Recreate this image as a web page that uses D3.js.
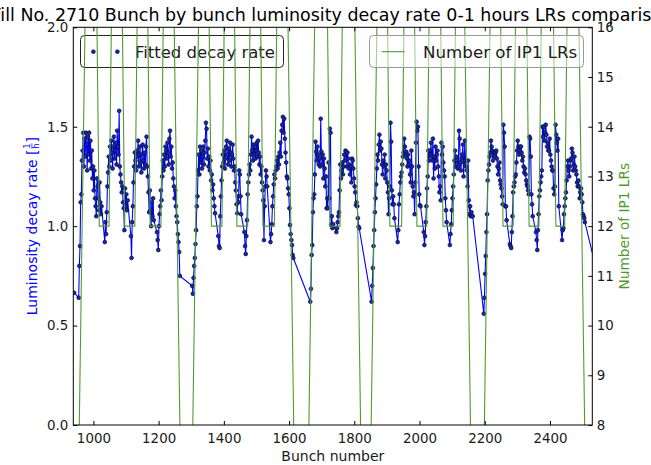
<!DOCTYPE html>
<html><head><meta charset="utf-8">
<script src="https://cdn.jsdelivr.net/npm/d3@7"></script>
<style>
html,body{margin:0;padding:0;background:#fff;}
svg{display:block;font-family:"DejaVu Sans",sans-serif;}
</style></head>
<body><svg id="chart" width="651" height="465"></svg>
<script>
// ---------------- data ----------------
const titleText = "Fill No. 2710 Bunch by bunch luminosity decay rate 0-1 hours LRs comparison";
const xTicks = [1000, 1200, 1400, 1600, 1800, 2000, 2200, 2400];
const yLeftTicks = [0.0, 0.5, 1.0, 1.5, 2.0];
const yRightTicks = [8, 9, 10, 11, 12, 13, 14, 15, 16];

// first bunch of each 36-bunch train (bunch slot number)
const trainStart = [955, 1035, 1115, 1195, 1303, 1383, 1463, 1543, 1665, 1745,
                    1853, 1933, 2013, 2093, 2197, 2277, 2357, 2437];
const bunchSpacing = 2;
// fitted luminosity decay rate [1/h] of consecutive bunches in each train
const trainRates = [
 [0.64,0.80,0.90,1.12,1.16,1.33,1.38,1.47,1.30,1.44,1.35,1.47,1.41,1.28,1.45,1.36,1.47,1.33,1.43,1.29,1.38,1.24,1.30,1.18,1.28,1.14,1.10,1.05,1.24,1.20,1.14,1.08,1.22,1.12,1.06,1.10],
 [0.92,1.02,0.96,1.07,1.20,1.27,1.35,1.30,1.40,1.33,1.43,1.37,1.29,1.40,1.45,1.34,1.38,1.42,1.31,1.48,1.40,1.36,1.58,1.30,1.26,1.22,1.17,1.20,1.12,1.09,0.98,1.19,1.10,1.16,1.08,1.13],
 [0.95,0.84,1.02,1.10,1.22,1.30,1.37,1.33,1.28,1.38,1.35,1.43,1.30,1.36,1.40,1.32,1.27,1.36,1.41,1.33,1.29,1.37,1.31,1.40,1.45,1.30,1.25,1.17,1.07,1.18,1.08,1.00,1.12,1.05,1.14,1.03],
 [0.97,0.93,0.88,1.00,1.06,1.10,1.18,1.13,1.25,1.33,1.28,1.36,1.30,1.40,1.38,1.34,1.42,1.37,1.31,1.44,1.48,1.35,1.40,1.29,1.32,1.24,1.20,1.14,1.18,1.10,1.05,1.02,0.96,0.92,0.87,0.75],
 [0.70,0.66,0.74,0.80,0.84,0.91,0.98,1.10,1.15,1.28,1.36,1.26,1.40,1.32,1.38,1.29,1.35,1.40,1.31,1.37,1.43,1.52,1.49,1.34,1.39,1.30,1.35,1.28,1.33,1.23,1.26,1.18,1.21,1.14,1.10,1.065],
 [0.95,0.90,0.89,1.05,1.15,1.23,1.30,1.36,1.32,1.38,1.29,1.34,1.40,1.43,1.36,1.31,1.39,1.33,1.42,1.37,1.30,1.36,1.41,1.34,1.28,1.30,1.22,1.18,1.11,1.065,1.15,1.12,1.28,1.26,1.15,1.06],
 [0.97,0.90,0.86,0.95,1.03,1.16,1.22,1.26,1.31,1.28,1.36,1.45,1.38,1.33,1.41,1.36,1.40,1.34,1.38,1.42,1.35,1.43,1.37,1.31,1.35,1.26,1.30,1.22,1.18,1.13,0.93,1.10,1.20,1.28,1.25,1.20],
 [0.92,0.96,1.01,1.10,1.15,1.21,1.26,1.24,1.28,1.30,1.33,1.29,1.35,1.31,1.37,1.42,1.35,1.48,1.51,1.55,1.47,1.54,1.44,1.37,1.32,1.25,1.24,1.19,1.16,1.09,1.006,0.96,0.93,0.905,0.855,0.84],
 [0.62,0.685,0.855,0.905,1.07,1.14,1.16,1.26,1.425,1.375,1.33,1.40,1.36,1.31,1.34,1.30,1.54,1.375,1.31,1.36,1.24,1.34,1.29,1.20,1.25,1.09,1.14,1.09,1.32,1.14,1.49,1.47,1.006,1.05,0.99,1.01],
 [0.97,0.99,1.02,1.05,1.07,1.18,1.31,1.24,1.28,1.32,1.26,1.30,1.36,1.33,1.38,1.375,1.30,1.37,1.34,1.29,1.31,1.26,1.30,1.22,1.34,1.33,1.29,1.24,1.20,1.17,1.106,1.12,1.10,1.04,0.997,0.99],
 [0.62,0.70,0.79,0.90,0.98,1.07,1.14,1.21,1.29,1.36,1.33,1.41,1.46,1.38,1.425,1.39,1.31,1.26,1.33,1.30,1.36,1.24,1.31,1.28,1.22,1.17,1.06,1.14,1.20,1.52,1.425,1.18,1.11,1.15,1.11,1.04],
 [0.92,0.98,1.11,1.16,1.22,1.25,1.27,1.31,1.35,1.37,1.44,1.40,1.36,1.375,1.34,1.30,1.36,1.31,1.33,1.26,1.22,1.38,1.30,1.20,1.15,1.17,1.06,1.22,1.42,1.525,1.48,1.50,1.30,1.16,1.105,1.10],
 [0.97,0.905,0.95,1.02,1.10,1.19,1.25,1.38,1.33,1.38,1.36,1.42,1.35,1.33,1.44,1.24,1.35,1.29,1.40,1.33,1.36,1.38,1.30,1.25,1.17,1.20,1.13,1.42,1.36,1.40,1.32,1.28,1.25,1.14,1.08,1.02],
 [0.905,0.96,1.01,1.08,1.14,1.20,1.26,1.33,1.38,1.30,1.35,1.33,1.29,1.30,1.48,1.44,1.32,1.28,1.34,1.36,1.41,1.25,1.32,1.43,1.33,1.30,1.28,1.20,1.33,1.13,1.06,1.10,1.05,1.07,1.05,1.05],
 [0.56,0.64,0.76,0.85,0.97,1.06,1.23,1.28,1.31,1.35,1.37,1.43,1.40,1.38,1.33,1.36,1.37,1.35,1.37,1.38,1.34,1.30,1.26,1.29,1.32,1.23,1.21,1.19,1.15,1.11,1.51,1.47,1.40,1.10,1.10,1.03],
 [0.91,0.90,0.89,0.97,1.05,1.17,1.20,1.22,1.25,1.26,1.32,1.38,1.43,1.40,1.36,1.38,1.40,1.40,1.37,1.33,1.35,1.30,1.27,1.29,1.26,1.23,1.21,1.20,1.18,1.16,1.45,1.44,1.35,1.16,1.11,1.05],
 [0.97,0.93,0.88,0.98,1.06,1.15,1.18,1.22,1.25,1.28,1.50,1.45,1.50,1.43,1.47,1.51,1.46,1.40,1.42,1.38,1.38,1.44,1.36,1.33,1.30,1.28,1.28,1.19,1.16,1.20,1.51,1.46,1.42,1.38,1.44,1.10],
 [0.93,0.98,0.99,1.06,1.10,1.14,1.17,1.23,1.30,1.33,1.28,1.25,1.30,1.33,1.34,1.39,1.37,1.28,1.31,1.35,1.30,1.28,1.26,1.22,1.20,1.23,1.20,1.14,1.17,1.19,1.16,1.12,1.06,1.05,1.04,1.02]
];
// isolated bunches before the first and after the last train
const extraBunch = [941, 2560];
const extraRate = [0.665, 0.66];

// number of IP1 long-range encounters (polyline vertices)
const lrBunch = [948,983, 1004,1018,1048,1062, 1082,1096,1127,1141, 1160,1174,1207,1221, 1239,1274,
                 1296,1331, 1348,1362,1394,1408, 1426,1440,1473,1487, 1506,1520,1555,1569, 1588,1623,
                 1652,1687, 1711,1725,1756,1770, 1793,1828,
                 1843,1878, 1895,1909,1945,1959, 1978,1992,2022,2036, 2058,2072,2103,2117, 2130,2165,
                 2190,2225, 2242,2256,2287,2301, 2322,2336,2366,2380, 2404,2418,2445,2459, 2480,2515];
const lrCount = [4,20, 20,12,12,20, 20,12,12,20, 20,12,12,20, 20,4,
                 4,20, 20,12,12,20, 20,12,12,20, 20,12,12,20, 20,4,
                 4,20, 20,12,12,20, 20,4,
                 4,20, 20,12,12,20, 20,12,12,20, 20,12,12,20, 20,4,
                 4,20, 20,12,12,20, 20,12,12,20, 20,12,12,20, 20,4];

// ---------------- build ----------------
const blue = [];
blue.push({b: extraBunch[0], r: extraRate[0]});
trainStart.forEach((s, i) => trainRates[i].forEach((r, j) => blue.push({b: s + bunchSpacing * j, r})));
blue.push({b: extraBunch[1], r: extraRate[1]});
const green = lrBunch.map((b, i) => ({b, n: lrCount[i]}));

const L = 73.3, R = 592.3, T = 27.3, B = 425;
const x = d3.scaleLinear().domain([938.4, 2529.7]).range([L, R]);
const yL = d3.scaleLinear().domain([0, 2]).range([B, T]);
const yR = d3.scaleLinear().domain([8, 16]).range([B, T]);

const svg = d3.select("#chart");
svg.append("rect").attr("width", 651).attr("height", 465).attr("fill", "#fff");
svg.append("defs").append("clipPath").attr("id", "clip")
  .append("rect").attr("x", L).attr("y", T).attr("width", R - L).attr("height", B - T);

const blueCol = "#0000ff", greenCol = "#4f9b30", txt = "#1a1a1a";

// ---- ax1: blue series
const gPlot = svg.append("g").attr("clip-path", "url(#clip)");
gPlot.append("path").datum(blue)
  .attr("d", d3.line().x(d => x(d.b)).y(d => yL(d.r)))
  .attr("fill", "none").attr("stroke", blueCol).attr("stroke-width", 1.1);
gPlot.selectAll("circle.pt").data(blue).join("circle").attr("class", "pt")
  .attr("cx", d => x(d.b)).attr("cy", d => yL(d.r)).attr("r", 1.9)
  .attr("fill", "#1428b4").attr("stroke", "#0a0a3a").attr("stroke-width", 0.7);

// legend ax1
const lg1 = svg.append("g");
lg1.append("rect").attr("x", 80.5).attr("y", 35.5).attr("width", 203).attr("height", 32).attr("rx", 4)
  .attr("fill", "#fff").attr("stroke", "#222").attr("stroke-width", 1);
[93.4, 117.4].forEach(cx => lg1.append("circle").attr("cx", cx).attr("cy", 51.7).attr("r", 1.9)
  .attr("fill", "#1428b4").attr("stroke", "#0a0a3a").attr("stroke-width", 0.7));
lg1.append("text").attr("x", 134.9).attr("y", 57.6).attr("font-size", 16.5).attr("fill", txt).text("Fitted decay rate");

// ---- ax2: green series (drawn above ax1)
const gPlot2 = svg.append("g").attr("clip-path", "url(#clip)");
gPlot2.append("path").datum(green)
  .attr("d", d3.line().x(d => x(d.b)).y(d => yR(d.n)))
  .attr("fill", "none").attr("stroke", greenCol).attr("stroke-width", 1.1);

// legend ax2 (semi-transparent frame)
const lg2 = svg.append("g");
lg2.append("rect").attr("x", 369.5).attr("y", 35.5).attr("width", 214).attr("height", 32).attr("rx", 4)
  .attr("fill", "#fff").attr("fill-opacity", 0.5).attr("stroke", "#999").attr("stroke-width", 1);
lg2.append("line").attr("x1", 381.7).attr("x2", 404.6).attr("y1", 51.7).attr("y2", 51.7)
  .attr("stroke", greenCol).attr("stroke-width", 1.1);
lg2.append("text").attr("x", 423).attr("y", 57.6).attr("font-size", 16.7).attr("fill", txt).text("Number of IP1 LRs");

// ---- axes
const fs = 13.4;
function styleAxis(g) {
  g.select(".domain").remove();
  g.selectAll(".tick line").attr("stroke", "#000");
  g.selectAll(".tick text").attr("fill", txt).attr("font-size", fs).attr("font-family", "DejaVu Sans");
}
svg.append("g").attr("transform", `translate(0,${B})`)
  .call(d3.axisBottom(x).tickValues(xTicks).tickFormat(d3.format("d")).tickSize(-4).tickPadding(8.5))
  .call(styleAxis);
svg.append("g").attr("transform", `translate(0,${T})`)
  .call(d3.axisTop(x).tickValues(xTicks).tickFormat("").tickSize(-4))
  .call(styleAxis);
svg.append("g").attr("transform", `translate(${L},0)`)
  .call(d3.axisLeft(yL).tickValues(yLeftTicks).tickFormat(d3.format(".1f")).tickSize(-4).tickPadding(5))
  .call(styleAxis);
svg.append("g").attr("transform", `translate(${R},0)`)
  .call(d3.axisRight(yR).tickValues(yRightTicks).tickFormat(d3.format("d")).tickSize(-4).tickPadding(4.5))
  .call(styleAxis);

// frame
svg.append("rect").attr("x", L).attr("y", T).attr("width", R - L).attr("height", B - T)
  .attr("fill", "none").attr("stroke", "#000").attr("stroke-width", 1);

// title: wider than the figure, so it is clipped at both sides as in the original
const title = svg.append("text").attr("x", 0).attr("y", 21).attr("font-size", 17.4)
  .attr("fill", "#000").text(titleText);
{
  const n = titleText.length;
  const node = title.node();
  const visW = node.getSubStringLength(1, n - 3); // "ill ... comparis"
  const f = 17.4 * 651 / visW;
  title.attr("font-size", f);
  const fW = node.getSubStringLength(0, 1);
  title.attr("x", 0.3 - fW);
}

// x label
svg.append("text").attr("x", (L + R) / 2).attr("y", 461).attr("text-anchor", "middle")
  .attr("font-size", 14).attr("fill", txt).text("Bunch number");

// left y label with stacked fraction 1/h
const yl = svg.append("g").attr("transform", `translate(36.5,${(T + B) / 2}) rotate(-90)`);
const inner = yl.append("g").attr("fill", blueCol).attr("font-size", 14);
const t1 = inner.append("text").attr("x", 0).attr("y", 0).text("Luminosity decay rate [");
const w1 = t1.node().getComputedTextLength();
const fw = 7;
inner.append("text").attr("x", w1 + fw / 2).attr("y", -6.3).attr("text-anchor", "middle").attr("font-size", 8.5).text("1");
inner.append("line").attr("x1", w1 + 0.8).attr("x2", w1 + fw - 0.8).attr("y1", -4.6).attr("y2", -4.6)
  .attr("stroke", blueCol).attr("stroke-width", 0.7);
inner.append("text").attr("x", w1 + fw / 2).attr("y", 2.4).attr("text-anchor", "middle").attr("font-size", 8.5).text("h");
const t3 = inner.append("text").attr("x", w1 + fw).attr("y", 0).text("]");
const W = w1 + fw + t3.node().getComputedTextLength();
inner.attr("transform", `translate(${-W / 2},0)`);

// right y label
svg.append("text").attr("transform", `translate(628.5,${(T + B) / 2}) rotate(-90)`)
  .attr("text-anchor", "middle").attr("font-size", 13.7).attr("fill", greenCol).text("Number of IP1 LRs");
</script></body></html>
